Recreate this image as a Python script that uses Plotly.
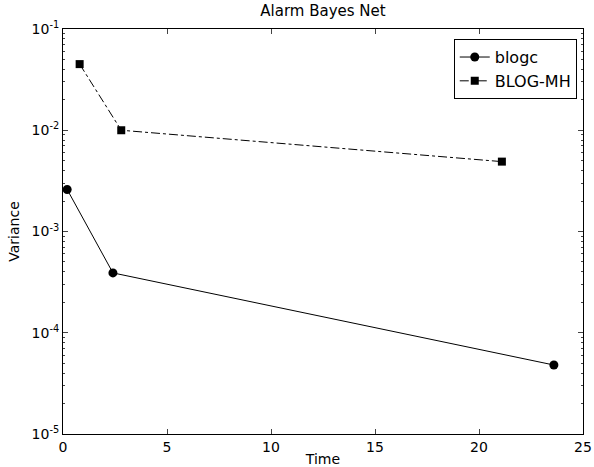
import plotly.graph_objects as go

blogc_time = [0.2, 2.4, 23.6]
blogc_var = [2.6e-3, 3.9e-4, 4.8e-5]
mh_time = [0.8, 2.8, 21.1]
mh_var = [4.5e-2, 1.0e-2, 4.9e-3]

y_tickvals = [1e-5, 1e-4, 1e-3, 1e-2, 1e-1]
y_ticktext = ["10<sup>-5</sup>", "10<sup>-4</sup>", "10<sup>-3</sup>", "10<sup>-2</sup>", "10<sup>-1</sup>"]
y_minor_vals = [m * d for d in [1e-5, 1e-4, 1e-3, 1e-2] for m in range(2, 10)]
x_tickvals = [0, 5, 10, 15, 20, 25]

fig = go.Figure()
fig.add_trace(go.Scatter(x=blogc_time, y=blogc_var, name="blogc", mode="lines+markers",
                         line=dict(color="black", width=1),
                         marker=dict(symbol="circle", size=9, color="black")))
fig.add_trace(go.Scatter(x=mh_time, y=mh_var, name="BLOG-MH", mode="lines+markers",
                         line=dict(color="black", width=1, dash="dashdot"),
                         marker=dict(symbol="square", size=8, color="black")))

fig.update_layout(
    width=594, height=467,
    margin=dict(l=63, r=11, t=29, b=33, autoexpand=False),
    paper_bgcolor="white", plot_bgcolor="white",
    font=dict(family="DejaVu Sans", size=13, color="black"),
    title=dict(text="Alarm Bayes Net", x=0.5, xanchor="center", xref="paper",
               y=1 - 11 / 467, yanchor="middle", yref="container",
               font=dict(size=15)),
    showlegend=True,
    legend=dict(x=0.988, y=0.975, xanchor="right", yanchor="top",
                bordercolor="black", borderwidth=1, bgcolor="white",
                font=dict(size=16), itemwidth=30, tracegroupgap=0),
)
fig.update_xaxes(range=[0, 25], tickvals=x_tickvals, ticks="inside", ticklen=5,
                 showline=True, linecolor="black", linewidth=1, mirror="allticks",
                 showgrid=False, zeroline=False, automargin=False,
                 tickfont=dict(size=14),
                 title=dict(text="Time", standoff=2, font=dict(size=14)))
fig.update_yaxes(type="log", range=[-5, -1], tickvals=y_tickvals, ticktext=y_ticktext,
                 ticks="inside", ticklen=5,
                 showline=True, linecolor="black", linewidth=1, mirror="allticks",
                 showgrid=False, zeroline=False, automargin=False,
                 tickfont=dict(size=14),
                 minor=dict(ticks="inside", ticklen=2, tickvals=y_minor_vals, showgrid=False),
                 title=dict(text="Variance", standoff=8, font=dict(size=14)))

fig.write_html("out.html", config={"displayModeBar": False},
               post_script="document.body.style.margin='0';")
